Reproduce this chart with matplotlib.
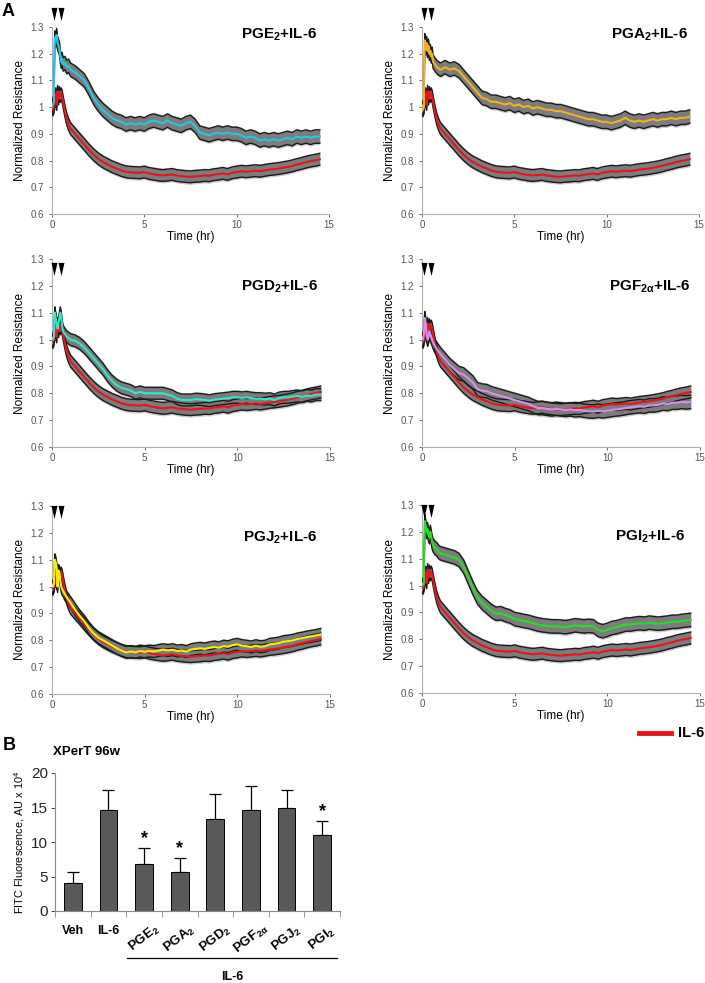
import numpy as np
import matplotlib.pyplot as plt
from matplotlib.path import Path
from matplotlib.lines import Line2D

plt.rcParams['font.family'] = ['Liberation Sans', 'DejaVu Sans']
plt.rcParams['mathtext.fontset'] = 'custom'
plt.rcParams['mathtext.rm'] = 'Liberation Sans'
plt.rcParams['mathtext.bf'] = 'Liberation Sans:bold'
plt.rcParams['mathtext.it'] = 'Liberation Sans:italic'

# ---- panel A data: normalized resistance vs time (hr) ----
time_hr = [0, 0.05, 0.1, 0.15, 0.2, 0.25, 0.3, 0.35, 0.4, 0.45, 0.5, 0.55, 0.6, 0.7, 0.8, 0.9, 1.0,
           1.25, 1.5, 1.75, 2.0, 2.25, 2.5, 2.75, 3.0, 3.25, 3.5, 3.75, 4.0, 4.25, 4.5, 4.75,
           5.0, 5.25, 5.5, 5.75, 6.0, 6.25, 6.5, 6.75, 7.0, 7.25, 7.5, 7.75, 8.0, 8.25, 8.5, 8.75,
           9.0, 9.25, 9.5, 9.75, 10.0, 10.25, 10.5, 10.75, 11.0, 11.25, 11.5, 11.75, 12.0, 12.25,
           12.5, 12.75, 13.0, 13.25, 13.5, 13.75, 14.0, 14.25, 14.5]

il6 = [1.00, 0.99, 1.00, 1.02, 1.05, 1.01, 1.06, 1.03, 1.055, 1.04, 1.05, 1.04, 1.02, 0.985, 0.955, 0.935, 0.92,
       0.90, 0.88, 0.86, 0.84, 0.822, 0.807, 0.795, 0.786, 0.777, 0.770, 0.763, 0.758, 0.756, 0.755, 0.754,
       0.757, 0.752, 0.749, 0.746, 0.744, 0.746, 0.748, 0.744, 0.742, 0.740, 0.739, 0.741, 0.742, 0.744, 0.743, 0.747,
       0.749, 0.752, 0.748, 0.754, 0.757, 0.760, 0.758, 0.760, 0.762, 0.760, 0.763, 0.766, 0.768, 0.770,
       0.773, 0.776, 0.780, 0.785, 0.789, 0.794, 0.798, 0.801, 0.805]

pge2 = [1.00, 1.01, 1.02, 1.26, 1.25, 1.27, 1.24, 1.23, 1.22, 1.19, 1.17, 1.18, 1.16, 1.165, 1.15, 1.155, 1.14,
        1.13, 1.115, 1.10, 1.07, 1.035, 1.01, 0.99, 0.975, 0.96, 0.95, 0.945, 0.935, 0.94, 0.935, 0.94,
        0.935, 0.945, 0.95, 0.945, 0.94, 0.95, 0.94, 0.935, 0.93, 0.94, 0.945, 0.93, 0.905, 0.90, 0.895, 0.90,
        0.905, 0.90, 0.905, 0.90, 0.90, 0.895, 0.885, 0.89, 0.885, 0.875, 0.88, 0.875, 0.88, 0.875,
        0.88, 0.885, 0.88, 0.89, 0.885, 0.89, 0.885, 0.89, 0.89]

pga2 = [1.00, 0.99, 1.00, 1.25, 1.22, 1.24, 1.21, 1.23, 1.20, 1.21, 1.19, 1.20, 1.17, 1.16, 1.15, 1.145, 1.14,
        1.15, 1.14, 1.145, 1.135, 1.115, 1.095, 1.075, 1.055, 1.035, 1.03, 1.02, 1.02, 1.015, 1.01, 1.015,
        1.005, 1.01, 1.00, 1.005, 0.995, 1.00, 0.995, 0.99, 0.99, 0.985, 0.985, 0.98, 0.975, 0.97, 0.965, 0.96,
        0.955, 0.955, 0.95, 0.945, 0.945, 0.94, 0.945, 0.95, 0.96, 0.95, 0.945, 0.95, 0.945, 0.95,
        0.955, 0.95, 0.955, 0.955, 0.96, 0.955, 0.96, 0.96, 0.965]

pgd2 = [1.00, 1.00, 1.01, 1.10, 1.08, 1.06, 1.04, 1.06, 1.08, 1.10, 1.08, 1.05, 1.03, 1.02, 1.01, 1.005, 1.00,
        0.995, 0.985, 0.97, 0.95, 0.93, 0.91, 0.89, 0.865, 0.845, 0.83, 0.82, 0.815, 0.81, 0.80, 0.805,
        0.80, 0.80, 0.80, 0.80, 0.80, 0.795, 0.79, 0.78, 0.775, 0.775, 0.775, 0.778, 0.777, 0.775, 0.772, 0.776,
        0.778, 0.78, 0.782, 0.785, 0.785, 0.783, 0.785, 0.782, 0.78, 0.78, 0.778, 0.78, 0.775, 0.782,
        0.785, 0.785, 0.788, 0.79, 0.787, 0.792, 0.79, 0.795, 0.795]

pgf2a = [1.00, 1.00, 1.02, 1.08, 1.06, 1.02, 1.00, 1.01, 1.03, 1.02, 1.01, 1.00, 0.99, 0.975, 0.965, 0.955, 0.945,
         0.925, 0.905, 0.89, 0.875, 0.87, 0.855, 0.84, 0.815, 0.81, 0.808, 0.80, 0.795, 0.79, 0.785, 0.78,
         0.775, 0.77, 0.765, 0.76, 0.752, 0.745, 0.745, 0.742, 0.74, 0.742, 0.74, 0.738, 0.74, 0.737, 0.738, 0.735,
         0.733, 0.732, 0.735, 0.733, 0.735, 0.738, 0.74, 0.742, 0.745, 0.748, 0.75, 0.752, 0.75, 0.755,
         0.755, 0.757, 0.762, 0.76, 0.765, 0.765, 0.768, 0.766, 0.768]

pgj2 = [1.00, 1.00, 1.01, 1.10, 1.09, 1.07, 1.00, 1.06, 1.05, 1.02, 1.00, 0.99, 0.985, 0.97, 0.96, 0.95, 0.94,
        0.915, 0.89, 0.87, 0.845, 0.825, 0.81, 0.80, 0.79, 0.78, 0.77, 0.762, 0.755, 0.758, 0.755, 0.76,
        0.757, 0.76, 0.758, 0.762, 0.765, 0.762, 0.765, 0.76, 0.762, 0.758, 0.765, 0.768, 0.77, 0.768, 0.772, 0.775,
        0.772, 0.778, 0.776, 0.782, 0.785, 0.78, 0.778, 0.775, 0.78, 0.776, 0.778, 0.785, 0.787, 0.79,
        0.795, 0.797, 0.80, 0.805, 0.808, 0.812, 0.815, 0.818, 0.822]

pgi2 = [1.00, 1.00, 1.01, 1.24, 1.22, 1.20, 1.21, 1.19, 1.18, 1.20, 1.18, 1.16, 1.15, 1.14, 1.135, 1.125, 1.12,
        1.115, 1.11, 1.105, 1.095, 1.07, 1.03, 0.99, 0.955, 0.935, 0.92, 0.905, 0.895, 0.897, 0.89, 0.885,
        0.875, 0.872, 0.868, 0.865, 0.86, 0.855, 0.852, 0.85, 0.848, 0.848, 0.847, 0.845, 0.848, 0.852, 0.85, 0.848,
        0.85, 0.848, 0.835, 0.83, 0.835, 0.842, 0.845, 0.85, 0.855, 0.855, 0.858, 0.86, 0.858, 0.862,
        0.86, 0.858, 0.86, 0.862, 0.865, 0.865, 0.868, 0.87, 0.872]

# SEM half-width of each trace
il6_err = 0.022
panel_names = ['PGE$_\\mathbf{2}$+IL-6', 'PGA$_\\mathbf{2}$+IL-6', 'PGD$_\\mathbf{2}$+IL-6',
               'PGF$_\\mathbf{2\\alpha}$+IL-6', 'PGJ$_\\mathbf{2}$+IL-6', 'PGI$_\\mathbf{2}$+IL-6']
panel_series = [pge2, pga2, pgd2, pgf2a, pgj2, pgi2]
panel_err = [0.025, 0.025, 0.022, 0.025, 0.022, 0.025]
panel_colors = ['#22c8e8', '#f2b21c', '#2ee8c8', '#d490f0', '#f8f000', '#22e022']
arrow_times = [0.1, 0.5]

# ---- panel B data ----
bar_labels = ['Veh', 'IL-6', 'PGE$_\\mathbf{2}$', 'PGA$_\\mathbf{2}$', 'PGD$_\\mathbf{2}$',
              'PGF$_\\mathbf{2\\alpha}$', 'PGJ$_\\mathbf{2}$', 'PGI$_\\mathbf{2}$']
fitc_mean = [4.1, 14.7, 6.8, 5.6, 13.3, 14.6, 15.0, 11.0]
fitc_err = [1.5, 2.9, 2.3, 2.1, 3.6, 3.5, 2.6, 2.1]
significant = [False, False, True, True, False, False, False, True]

W, H = 705, 983
fig = plt.figure(figsize=(W / 100, H / 100), dpi=100)


def px_axes(left, top, right, bottom):
    return fig.add_axes([left / W, 1 - bottom / H, (right - left) / W, (bottom - top) / H])


tri = Path([(-0.45, 1), (0.45, 1), (0, -1), (-0.45, 1)],
           [Path.MOVETO, Path.LINETO, Path.LINETO, Path.CLOSEPOLY])

rects = [(52, 27, 329, 214), (422, 27, 699, 214),
         (52, 259, 330, 447), (422, 259, 700, 447),
         (52, 506, 330, 694), (422, 505, 700, 693)]
arrow_y = [1.35, 1.35, 1.261, 1.261, 1.276, 1.276]
title_y = [1.27, 1.27, 1.195, 1.195, 1.18, 1.18]

t = np.array(time_hr)


def draw_trace(ax, y, e):
    y = np.array(y)
    ax.fill_between(t, y - e - 0.006, y + e + 0.006, color='#cccccc', lw=0, zorder=1)
    ax.fill_between(t, y - e, y + e, color='#7c7c7c', lw=0, zorder=2)
    ax.plot(t, y - e, color='#1a1a1a', lw=1.0, zorder=3)
    ax.plot(t, y + e, color='#1a1a1a', lw=1.0, zorder=3)


for i in range(6):
    ax = px_axes(*rects[i])
    draw_trace(ax, il6, il6_err)
    draw_trace(ax, panel_series[i], panel_err[i])
    ax.plot(t, il6, color='#e8141c', lw=1.5, zorder=5)
    ax.plot(t, panel_series[i], color=panel_colors[i], lw=1.5, zorder=6)
    ax.set_xlim(0, 15)
    ax.set_ylim(0.6, 1.3)
    ax.set_xticks([0, 5, 10, 15])
    ax.set_yticks([0.6, 0.7, 0.8, 0.9, 1.0, 1.1, 1.2, 1.3])
    ax.set_yticklabels(['0.6', '0.7', '0.8', '0.9', '1', '1.1', '1.2', '1.3'])
    ax.tick_params(labelsize=7, colors='#555555', length=2, width=0.6)
    ax.tick_params(axis='y', pad=4)
    ax.tick_params(axis='x', pad=2)
    for s in ['top', 'right']:
        ax.spines[s].set_visible(False)
    for s in ['left', 'bottom']:
        ax.spines[s].set_color('#b0b0b0')
        ax.spines[s].set_linewidth(0.8)
    ax.set_ylabel('Normalized Resistance', fontsize=8.5, labelpad=3)
    ax.set_xlabel('Time (hr)', fontsize=8.5, labelpad=1)
    ax.text(0.82, title_y[i], panel_names[i], transform=ax.get_yaxis_transform(),
            ha='center', va='center', fontsize=11, fontweight='bold')
    ax.plot(arrow_times, [arrow_y[i]] * 2, linestyle='none', marker=tri, markersize=9.5,
            markeredgewidth=0, color='black', clip_on=False, zorder=10)

fig.text(2 / W, 1 - 12 / H, 'A', fontsize=13, fontweight='bold', va='center')

# legend for IL-6
fig.add_artist(Line2D([639 / W, 671 / W], [1 - 733 / H] * 2, color='#e8141c', lw=3.5))
fig.text(678 / W, 1 - 733 / H, 'IL-6', fontsize=10.5, fontweight='bold', va='center')

# ---- panel B ----
axb = px_axes(55, 773, 340, 911)
x = np.arange(len(fitc_mean))
axb.bar(x, fitc_mean, width=0.5, color='#595959', edgecolor='black', linewidth=0.7, zorder=2)
axb.errorbar(x, fitc_mean, yerr=[np.zeros(len(fitc_err)), fitc_err], fmt='none',
             ecolor='black', elinewidth=0.9, capsize=4, capthick=0.9, zorder=1)
for xi, m, e, sig in zip(x, fitc_mean, fitc_err, significant):
    if sig:
        axb.text(xi, m + e + 0.1, '*', ha='center', va='bottom', fontsize=13, fontweight='bold')
axb.set_xlim(-0.5, 7.5)
axb.set_ylim(0, 20)
axb.set_yticks([0, 5, 10, 15, 20])
axb.set_xticks(np.arange(-0.5, 8, 1))
axb.set_xticklabels([])
axb.tick_params(axis='y', labelsize=11, colors='#222222', length=3, width=0.6, pad=2)
axb.tick_params(axis='x', length=4, width=0.6, colors='#888888')
for s in ['top', 'right']:
    axb.spines[s].set_visible(False)
for s in ['left', 'bottom']:
    axb.spines[s].set_color('#888888')
    axb.spines[s].set_linewidth(0.8)
axb.set_ylabel('FITC Fluorescence, AU x 10$^4$', fontsize=7.8, labelpad=3)
tr = axb.get_xaxis_transform()
for xi, lab in zip(x, bar_labels):
    if xi < 2:
        axb.text(xi, -0.145, lab, transform=tr, ha='center', va='center',
                 fontsize=9, fontweight='bold')
    else:
        axb.text(xi, -0.2, lab, transform=tr, ha='center', va='center',
                 fontsize=9.5, fontweight='bold', rotation=38)
axb.plot([1.52, 7.42], [-0.34, -0.34], transform=tr, color='black', lw=0.9, clip_on=False)
axb.text(4.47, -0.48, 'IL-6', transform=tr, ha='center', va='center', fontsize=9,
         fontweight='bold')
axb.text(-0.007, 1.15, 'XPerT 96w', transform=axb.transAxes, ha='left', va='center',
         fontsize=9.5, fontweight='bold')
fig.text(3 / W, 1 - 746 / H, 'B', fontsize=13, fontweight='bold', va='center')

fig.savefig('out.png', dpi=100)
